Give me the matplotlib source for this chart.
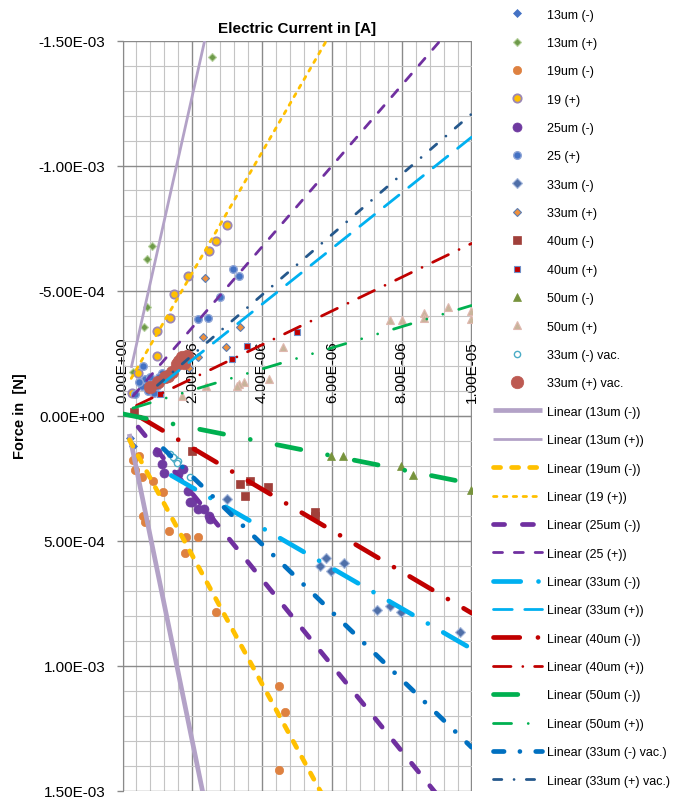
import numpy as np
import matplotlib
matplotlib.use("Agg")
import matplotlib.pyplot as plt
from matplotlib.ticker import MultipleLocator, FuncFormatter

plt.rcParams['font.family'] = ['Liberation Sans', 'DejaVu Sans']
plt.rcParams['lines.scale_dashes'] = False

UA = 1e-6   # x values below are given in micro-amperes
UN = 1e-4   # y values below are given in units of 1e-4 N

# ---------------- measured points ----------------
x_13n = [0.22, 0.30]
y_13n = [0.90, 1.20]
x_13p = [2.556, 0.837, 0.711, 0.693, 0.616, 0.31]
y_13p = [-14.33, -6.77, -6.26, -4.33, -3.53, -1.73]
x_19n = [0.292, 0.358, 0.481, 0.55, 0.883, 1.152, 0.596, 0.645, 1.341, 1.819, 2.172, 1.79, 2.679, 4.493, 4.656, 4.493]
y_19n = [1.77, 2.17, 1.61, 2.47, 2.61, 3.07, 4.01, 4.25, 4.63, 4.87, 4.87, 5.50, 7.87, 10.83, 11.87, 14.18]
x_19p = [2.985, 2.679, 2.487, 1.885, 1.476, 1.361, 0.997, 0.997, 0.453, 0.281]
y_19p = [-7.63, -6.97, -6.59, -5.59, -4.86, -3.90, -3.39, -2.39, -1.70, -0.89]
x_25n = [0.98, 1.123, 1.599, 1.742, 1.885, 1.934, 1.983, 2.172, 2.335, 2.487, 2.507, 1.20]
y_25n = [1.47, 1.94, 2.34, 2.14, 3.01, 3.47, 3.47, 3.74, 3.74, 4.01, 4.14, 2.30]
x_25p = [3.158, 3.347, 2.794, 2.458, 2.172, 1.123, 0.645, 0.79, 0.55, 0.74, 0.481, 0.358, 1.05, 0.596, 0.90, 1.00]
y_25p = [-5.86, -5.57, -4.73, -3.89, -3.86, -1.69, -1.46, -1.53, -1.19, -1.00, -1.33, -0.86, -1.55, -2.00, -0.90, -1.20]
x_33n = [5.831, 5.659, 5.966, 6.347, 7.301, 7.665, 7.98, 9.67, 2.985]
y_33n = [5.71, 6.01, 6.23, 5.90, 7.77, 7.61, 7.87, 8.65, 3.34]
x_33p = [2.364, 2.966, 3.367, 2.315, 2.172, 1.90]
y_33p = [-5.49, -2.75, -3.53, -3.13, -2.33, -1.90]
x_40n = [3.653, 4.178, 3.51, 3.367, 5.516, 5.516, 1.983, 0.33]
y_40n = [2.61, 2.87, 3.23, 2.74, 3.87, 4.03, 1.41, -0.15]
x_40p = [3.558, 4.99, 3.129, 1.074]
y_40p = [-2.79, -3.33, -2.26, -0.86]
x_50n = [5.966, 6.327, 7.98, 8.333, 9.986]
y_50n = [1.61, 1.63, 2.01, 2.38, 2.98]
x_50p = [4.607, 3.481, 3.347, 7.665, 8.0, 8.64, 8.64, 9.335, 9.977, 9.977, 4.19, 3.272, 2.40, 1.70]
y_50p = [-2.73, -1.35, -1.26, -3.82, -3.82, -4.10, -3.89, -4.33, -4.19, -3.86, -1.46, -1.19, -1.19, -0.79]
x_33nv = [1.504, 1.36, 1.45, 1.934, 1.60, 1.55]
y_33nv = [1.74, 1.54, 1.67, 2.47, 1.80, 1.90]
x_33pv = [1.41, 1.55, 1.70, 1.84, 1.22, 1.02, 0.79, 1.30, 1.62, 1.76]
y_33pv = [-1.73, -2.06, -2.33, -2.39, -1.54, -1.34, -1.14, -1.60, -2.20, -2.10]

point_labels = ['13um (-)', '13um (+)', '19um (-)', '19 (+)', '25um (-)', '25 (+)',
                '33um (-)', '33um (+)', '40um (-)', '40um (+)', '50um (-)', '50um (+)',
                '33um (-) vac.', '33um (+) vac.']
point_x = [x_13n, x_13p, x_19n, x_19p, x_25n, x_25p, x_33n, x_33p, x_40n, x_40p, x_50n, x_50p, x_33nv, x_33pv]
point_y = [y_13n, y_13p, y_19n, y_19p, y_25n, y_25p, y_33n, y_33p, y_40n, y_40p, y_50n, y_50p, y_33nv, y_33pv]

# ---------------- linear trendlines (slope in 1e-4 N per uA, intercept in 1e-4 N) ----------------
trend_labels = ['Linear (13um (-))', 'Linear (13um (+))', 'Linear (19um (-))', 'Linear (19 (+))',
                'Linear (25um (-))', 'Linear (25 (+))', 'Linear (33um (-))', 'Linear (33um (+))',
                'Linear (40um (-))', 'Linear (40um (+))', 'Linear (50um (-))', 'Linear (50um (+))',
                'Linear (33um (-) vac.)', 'Linear (33um (+) vac.)']
trend_slope = [6.81, -6.22, 2.57, -2.415, 1.717, -1.615, 0.806, -1.113, 0.825, -0.675, 0.279, -0.423, 1.353, -1.206]
trend_icpt = [-0.59, -0.35, 0.46, -0.88, -0.31, -0.29, 1.27, 0.0, -0.35, -0.13, -0.065, -0.17, -0.26, 0.0]
trend_x0 = [0.195, 0.25, 0.20, 0.25, 0.45, 0.30, 1.40, 1.20, 0.50, 0.40, 0.0, 0.30, 1.17, 1.00]
trend_x1 = [2.6, 2.6, 6.0, 6.5, 9.0, 10.0, 10.0, 10.0, 10.0, 10.0, 10.0, 10.0, 10.0, 10.0]

# ---------------- styles ----------------
mstyle = [
    dict(marker='D', ms=4.0, mfc='#4472C4', mec='#4472C4', mew=0.5),
    dict(marker='D', ms=4.5, mfc='#6E9A4A', mec='#B7D19E', mew=0.8),
    dict(marker='o', ms=6.0, mfc='#DE8140', mec='#DE8140', mew=0.5),
    dict(marker='o', ms=6.0, mfc='#FFC000', mec='#9B87B5', mew=1.3),
    dict(marker='o', ms=6.5, mfc='#6F3AA0', mec='#6F3AA0', mew=0.5),
    dict(marker='o', ms=5.5, mfc='#4472C4', mec='#8FA5D6', mew=1.0),
    dict(marker='D', ms=5.0, mfc='#4F6FA8', mec='#A5B8DC', mew=0.8),
    dict(marker='D', ms=4.5, mfc='#F0903C', mec='#5A7DB5', mew=0.8),
    dict(marker='s', ms=6.0, mfc='#A0403A', mec='#A0403A', mew=0.5),
    dict(marker='s', ms=4.0, mfc='#C00000', mec='#6F8FC8', mew=0.8),
    dict(marker='^', ms=6.0, mfc='#77933C', mec='#77933C', mew=0.5),
    dict(marker='^', ms=6.0, mfc='#C8B49A', mec='#E0B8B0', mew=0.8),
    dict(marker='o', ms=4.5, mfc='white', mec='#4BACC6', mew=1.0),
    dict(marker='o', ms=9.0, mfc='#BD5A52', mec='#BD5A52', mew=0.5),
]

def dash(vis, lw):
    # convert visible dash/gap lengths (pt) to round-cap pattern
    out = []
    for i, v in enumerate(vis):
        out.append(max(v - lw, 0.01) if i % 2 == 0 else v + lw)
    return (0, out)

TK = 3.4   # thick trendline width (pt)
TN = 2.0   # thin trendline width (pt)
lstyle = [
    dict(color='#B3A2C7', lw=TK, ls='-'),
    dict(color='#B3A2C7', lw=TN, ls='-'),
    dict(color='#FFC000', lw=TK, ls=dash([8.5, 4.5], TK)),
    dict(color='#FFC000', lw=TN, ls=dash([4.5, 2.6], TN)),
    dict(color='#7030A0', lw=TK, ls=dash([11.4, 9.4], TK)),
    dict(color='#7030A0', lw=TN, ls=dash([8.5, 6.5], TN)),
    dict(color='#00B0F0', lw=TK, ls=dash([23.0, 9.4, 0, 9.4], TK)),
    dict(color='#00B0F0', lw=TN, ls=dash([15.5, 7.0], TN)),
    dict(color='#C00000', lw=TK, ls=dash([22.3, 9.7, 0, 9.7], TK)),
    dict(color='#C00000', lw=TN, ls=dash([14.6, 6.5, 0, 6.5], TN)),
    dict(color='#00B050', lw=TK, ls=dash([20.9, 16.2, 0, 16.2], TK)),
    dict(color='#00B050', lw=TN, ls=dash([15.0, 10.0, 0, 10.0, 0, 10.0], TN)),
    dict(color='#0070C0', lw=TK, ls=dash([11.0, 8.0, 0, 8.0], TK)),
    dict(color='#25588C', lw=TN, ls=dash([8.0, 6.8, 0, 6.8], TN)),
]

# ---------------- figure ----------------
W, H = 675, 804
fig = plt.figure(figsize=(W / 100, H / 100), dpi=100)
ax = fig.add_axes([122.5 / W, (H - 791.5) / H, 349 / W, 750 / H])

handles = []
for lab, xs, ys, st in zip(point_labels, point_x, point_y, mstyle):
    h, = ax.plot(np.array(xs) * UA, np.array(ys) * UN, ls='none', label=lab, zorder=3, **st)
    handles.append(h)

for lab, m, b, x0, x1, st in zip(trend_labels, trend_slope, trend_icpt, trend_x0, trend_x1, lstyle):
    xs = np.array([x0, x1])
    ys = m * xs + b
    h, = ax.plot(xs * UA, ys * UN, label=lab, zorder=4, dash_capstyle='round',
                 solid_capstyle='butt', **st)
    handles.append(h)

ax.set_xlim(0, 1e-5)
ax.set_ylim(1.5e-3, -1.5e-3)

ax.xaxis.set_major_locator(MultipleLocator(2e-6))
ax.xaxis.set_minor_locator(MultipleLocator(0.4e-6))
ax.yaxis.set_major_locator(MultipleLocator(5e-4))
ax.yaxis.set_minor_locator(MultipleLocator(1e-4))
fmt = FuncFormatter(lambda v, p: f'{v:.2E}')
ax.xaxis.set_major_formatter(fmt)
ax.yaxis.set_major_formatter(fmt)

ax.grid(which='minor', color='#C4C4C4', lw=0.8)
ax.grid(which='major', color='#8A8A8A', lw=1.0)
ax.set_axisbelow(True)

for s in ('bottom', 'right'):
    ax.spines[s].set_visible(False)
ax.spines['top'].set_position(('data', 0))
ax.spines['top'].set_color('#8A8A8A')
ax.spines['left'].set_color('#8A8A8A')
ax.xaxis.set_ticks_position('top')

ax.tick_params(axis='x', which='both', length=0, pad=9.4, labelsize=11, labelrotation=90)
ax.tick_params(axis='y', which='major', length=4.3, width=1, color='#8A8A8A', pad=8, labelsize=11)
ax.tick_params(axis='y', which='minor', length=0)

ax.set_title('Electric Current in [A]', fontsize=11, fontweight='bold', pad=6)
ax.set_ylabel('Force in  [N]', fontsize=10.5, fontweight='bold')
ax.yaxis.set_label_coords(-0.275, 0.5)

fig.legend(handles=handles, loc='upper left', bbox_to_anchor=(493.3 / W, 1 - 9.5 / H),
           frameon=False, fontsize=9, labelspacing=1.31, handlelength=3.87,
           handletextpad=0.4, borderpad=0, borderaxespad=0, numpoints=1)

fig.savefig('out.png', dpi=100)
